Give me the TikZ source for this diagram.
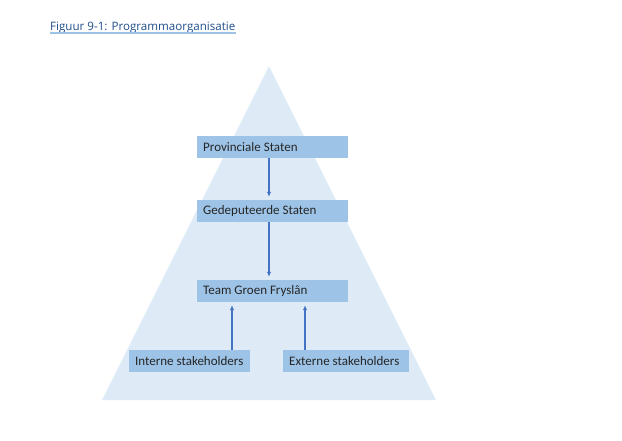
\documentclass[tikz,border=0pt]{standalone}
\usepackage{fontspec}
\setmainfont{Carlito}
\newfontfamily\titlefont{Open Sans}
\usetikzlibrary{arrows.meta}
\definecolor{pyramid}{HTML}{DEEBF7}
\definecolor{boxfill}{HTML}{9DC3E6}
\definecolor{arrowblue}{HTML}{4472C4}
\definecolor{titleblue}{HTML}{1F4E8C}
\definecolor{lineblue}{HTML}{9DC3E6}
\tikzset{
  orgbox/.style={fill=boxfill, minimum height=22pt, inner xsep=6pt, inner ysep=0pt,
    align=flush left, font=\fontsize{13}{15}\selectfont, text=black!85, anchor=west}
}
\begin{document}
\begin{tikzpicture}[x=1pt,y=-1pt,
    flow/.style={arrowblue, line width=1.3pt, -{Latex[length=5pt,width=4.5pt]}, shorten >=3pt}]
      \useasboundingbox (0,0) rectangle (622,440);
      % title
      \node[anchor=base west, inner sep=0pt, text=titleblue,
        font=\titlefont\fontsize{11.6}{13}\selectfont] (title) at (50,30) {Figuur 9-1: Programmaorganisatie};
      \draw[lineblue, line width=1.2pt] (title.base west) ++(0,3) coordinate (ul) -- (ul -| title.east);
      % pyramid
      \coordinate (top) at (269,66);
      \fill[pyramid] (top) -- (436,400) -- (102,400) -- cycle;
      \draw
        (197,147) node[orgbox, text width=139pt] (0){\mbox{Provinciale Staten}}
        (197,211) node[orgbox, text width=139pt] (1){\mbox{Gedeputeerde Staten}}
        (197,291) node[orgbox, text width=139pt] (2){\mbox{Team Groen Fryslân}}
        (129,361) node[orgbox, text width=109pt] (3){\mbox{Interne stakeholders}}
        (283,361) node[orgbox, text width=114pt] (4){\mbox{Externe stakeholders}};
      \begin{scope}[flow]
        \draw (0.south -| top) to (1.north -| top);
        \draw (1.south -| top) to (2.north -| top);
        \draw (3.north -| 232,0) to (2.south -| 232,0);
        \draw (4.north -| 305,0) to (2.south -| 305,0);
      \end{scope}
    \end{tikzpicture}
\end{document}
